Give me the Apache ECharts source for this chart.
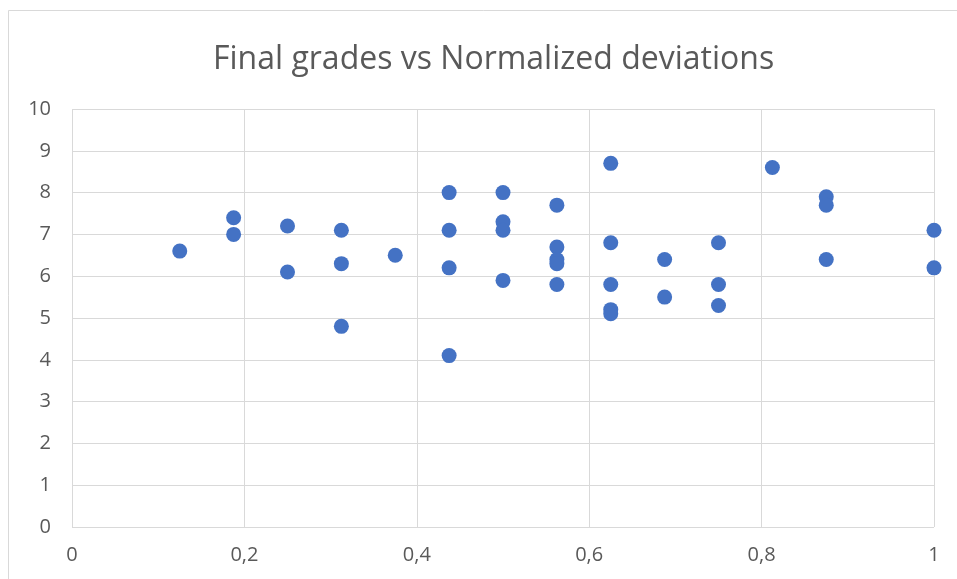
<!DOCTYPE html>
<html>
<head>
<meta charset="utf-8">
<script src="https://cdn.jsdelivr.net/npm/echarts@6/dist/echarts.min.js"></script>
<style>
  html, body { margin: 0; padding: 0; background: #fff; }
  #chart { width: 957px; height: 579px; }
</style>
</head>
<body>
<div id="chart"></div>
<script>
// normalized deviation (x) and final grade (y), one entry per student
const deviations = [
  0.125,
  0.1875, 0.1875,
  0.25, 0.25,
  0.3125, 0.3125, 0.3125,
  0.375,
  0.4375, 0.4375, 0.4375, 0.4375,
  0.5, 0.5, 0.5, 0.5,
  0.5625, 0.5625, 0.5625, 0.5625, 0.5625,
  0.625, 0.625, 0.625, 0.625, 0.625,
  0.6875, 0.6875,
  0.75, 0.75, 0.75,
  0.8125,
  0.875, 0.875, 0.875,
  1, 1
]
const grades = [
  6.6,
  7.4, 7.0,
  7.2, 6.1,
  7.1, 6.3, 4.8,
  6.5,
  8.0, 7.1, 6.2, 4.1,
  8.0, 7.3, 7.1, 5.9,
  7.7, 6.7, 6.4, 6.3, 5.8,
  8.7, 6.8, 5.8, 5.2, 5.1,
  6.4, 5.5,
  6.8, 5.8, 5.3,
  8.6,
  7.9, 7.7, 6.4,
  7.1, 6.2
]

const chart = echarts.init(document.getElementById('chart'))
const textColor = '#595959'
const gridColor = '#d9d9d9'
const font = 'Open Sans'

const options = {
  animation: false,
  backgroundColor: '#fff',
  title: {
    text: 'Final grades vs Normalized deviations',
    left: 208,
    top: 39,
    textStyle: {
      color: textColor,
      fontFamily: font,
      fontWeight: 'normal',
      fontSize: 32
    }
  },
  grid: {
    left: 72,
    right: 23,
    top: 109,
    bottom: 52
  },
  xAxis: {
    type: 'value',
    min: 0,
    max: 1,
    interval: 0.2,
    axisLine: { show: false },
    axisTick: { show: false },
    splitLine: { lineStyle: { color: gridColor, width: 1 } },
    axisLabel: {
      color: textColor,
      fontFamily: font,
      fontSize: 20,
      margin: 18,
      formatter: v => String(+v.toFixed(1)).replace('.', ',')
    }
  },
  yAxis: {
    type: 'value',
    min: 0,
    max: 10,
    interval: 1,
    axisLine: { show: false },
    axisTick: { show: false },
    splitLine: { lineStyle: { color: gridColor, width: 1 } },
    axisLabel: {
      color: textColor,
      fontFamily: font,
      fontSize: 20,
      margin: 21
    }
  },
  graphic: [{
    type: 'rect',
    shape: { x: 8.5, y: 10.5, width: 960, height: 580 },
    style: { fill: 'none', stroke: '#d9d9d9', lineWidth: 1 },
    silent: true
  }],
  series: [{
    type: 'scatter',
    symbol: 'circle',
    symbolSize: 15,
    itemStyle: { color: '#4472c4', opacity: 1 },
    data: deviations.map((x, i) => [x, grades[i]])
  }]
}
chart.setOption(options)
</script>
</body>
</html>
